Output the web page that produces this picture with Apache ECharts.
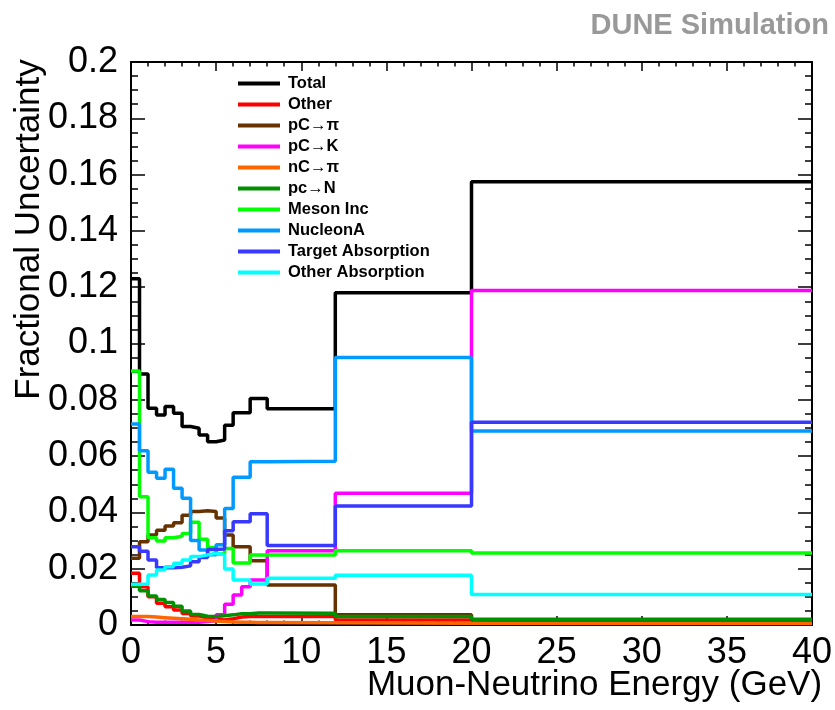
<!DOCTYPE html>
<html><head><meta charset="utf-8">
<script src="https://cdn.jsdelivr.net/npm/echarts@6/dist/echarts.min.js"></script>
<style>html,body{margin:0;padding:0;background:#fff}#c{width:835px;height:710px}</style>
</head><body><div id="c"></div>
<script>
// Bin edges (GeV)
const binEdges = [0,0.5,1,1.5,2,2.5,3,3.5,4,4.5,5,5.5,6,6.5,7,7.5,8,12,20,40];
const seriesNames = ['Total','Other','pC\u2192\u03c0','pC\u2192K','nC\u2192\u03c0','pc\u2192N','Meson Inc','NucleonA','Target Absorption','Other Absorption'];
const seriesColors = ['#000000','#ff0000','#663300','#ff00ff','#ff6600','#009000','#00ff00','#0099ff','#3838ff','#00ffff'];
// Values per bin
const total      = [0.123,0.0892,0.077,0.0746,0.0776,0.0752,0.0705,0.0699,0.0675,0.0651,0.0657,0.071,0.0754,0.0754,0.0805,0.0805,0.0768,0.118,0.1575];
const other      = [0.0184,0.0136,0.0100,0.0077,0.0065,0.0053,0.0041,0.0032,0.0025,0.002,0.0018,0.0022,0.0028,0.003,0.003,0.003,0.003,0.0018,0.0012];
const pCpi       = [0.0237,0.0296,0.032,0.0337,0.0352,0.0363,0.039,0.0403,0.0406,0.0403,0.038,0.032,0.0278,0.0278,0.0228,0.0228,0.0142,0.0036,0.0018];
const pCK        = [0.0018,0.0012,0.001,0.001,0.001,0.001,0.001,0.001,0.0012,0.0015,0.0036,0.0074,0.0107,0.0136,0.016,0.016,0.0264,0.0468,0.1188];
const nCpi       = [0.003,0.003,0.0028,0.0026,0.0024,0.0022,0.002,0.0018,0.0016,0.0014,0.0012,0.0011,0.001,0.001,0.0009,0.0009,0.0008,0.0006,0.0005];
const pcN        = [0.0138,0.0122,0.0103,0.0091,0.008,0.0067,0.005,0.0037,0.0031,0.003,0.0033,0.0036,0.004,0.004,0.0043,0.0043,0.0042,0.003,0.002];
const mesonInc   = [0.0902,0.0456,0.031,0.0298,0.031,0.0315,0.0325,0.0365,0.0305,0.0275,0.0252,0.0272,0.022,0.022,0.0249,0.0249,0.0249,0.0264,0.0256];
const nucleonA   = [0.0714,0.0619,0.0543,0.0521,0.0553,0.0486,0.045,0.030,0.0266,0.025,0.0285,0.0414,0.0525,0.0525,0.058,0.058,0.0582,0.095,0.0689];
const targetAbs  = [0.0278,0.0262,0.0231,0.0203,0.0203,0.0205,0.021,0.0225,0.024,0.0268,0.027,0.0335,0.0367,0.0367,0.0395,0.0395,0.0282,0.0423,0.072];
const otherAbs   = [0.0145,0.0145,0.0178,0.0195,0.0207,0.0219,0.0231,0.0243,0.0249,0.0255,0.0249,0.0199,0.016,0.016,0.0146,0.0146,0.0166,0.0177,0.0108];
const allValues = [total,other,pCpi,pCK,nCpi,pcN,mesonInc,nucleonA,targetAbs,otherAbs];
const xTicks = {min:0,max:40,interval:5};
const yTicks = {min:0,max:0.2,interval:0.02};

const FONT = 'Liberation Sans, Arial, Helvetica, sans-serif';
function stepData(vals){
  const d = vals.map((v,i)=>[binEdges[i], v]);
  d.push([binEdges[binEdges.length-1], vals[vals.length-1]]);
  return d;
}
const axisLine = {show:true,onZero:false,lineStyle:{color:'#000',width:2}};
function xAx(pos, showLabels){
  return {type:'value',position:pos,min:xTicks.min,max:xTicks.max,interval:xTicks.interval,
    axisLine:axisLine,
    axisTick:{show:true,inside:true,length:9,lineStyle:{color:'#000',width:1.5}},
    minorTick:{show:true,splitNumber:5,length:4.5,lineStyle:{color:'#000',width:1.5}},
    splitLine:{show:false},minorSplitLine:{show:false},
    axisLabel:{show:showLabels,fontSize:36,color:'#000',margin:10,fontFamily:FONT}};
}
function yAx(pos, showLabels){
  return {type:'value',position:pos,min:yTicks.min,max:yTicks.max,interval:yTicks.interval,
    axisLine:axisLine,
    axisTick:{show:true,inside:true,length:14,lineStyle:{color:'#000',width:1.5}},
    minorTick:{show:true,splitNumber:4,length:7,lineStyle:{color:'#000',width:1.5}},
    splitLine:{show:false},minorSplitLine:{show:false},
    axisLabel:{show:showLabels,fontSize:36,color:'#000',margin:13,fontFamily:FONT,
      formatter:v=>v===0?'0':String(+v.toFixed(2))}};
}
const xa = xAx('bottom', true);
Object.assign(xa,{name:'Muon-Neutrino Energy (GeV)',nameLocation:'middle',nameGap:43,nameMoveOverlap:false,
  nameTextStyle:{fontSize:35,color:'#000',fontFamily:FONT,padding:[0,0,0,246]}});
const ya = yAx('left', true);
Object.assign(ya,{name:'Fractional Uncertainty',nameLocation:'middle',nameGap:84,nameRotate:90,nameMoveOverlap:false,
  nameTextStyle:{fontSize:35,color:'#000',fontFamily:FONT,padding:[0,0,0,228]}});

const chart = echarts.init(document.getElementById('c'),null,{renderer:'canvas'});
chart.setOption({
  animation:false,
  backgroundColor:'#fff',
  color:seriesColors,
  title:{text:'DUNE Simulation',right:6,top:11,padding:0,textStyle:{fontSize:29,fontWeight:'bold',color:'#999999',fontFamily:FONT}},
  grid:{left:131,right:23,top:62,bottom:85,containLabel:false,outerBoundsMode:'none'},
  legend:{orient:'vertical',left:238,top:75,padding:0,icon:'rect',itemWidth:42,itemHeight:4,itemGap:4,
    data:seriesNames,
    textStyle:{fontSize:16.5,fontWeight:'bold',color:'#000',fontFamily:FONT,lineHeight:16,padding:[0,0,0,3]}},
  xAxis:[xa, xAx('top', false)],
  yAxis:[ya, yAx('right', false)],
  series: allValues.map((vals,i)=>({
    name:seriesNames[i],type:'line',step:'end',symbol:'none',
    xAxisIndex:0,yAxisIndex:0,
    itemStyle:{color:seriesColors[i]},
    lineStyle:{color:seriesColors[i],width:3.5},
    data:stepData(vals)
  }))
});
</script></body></html>
